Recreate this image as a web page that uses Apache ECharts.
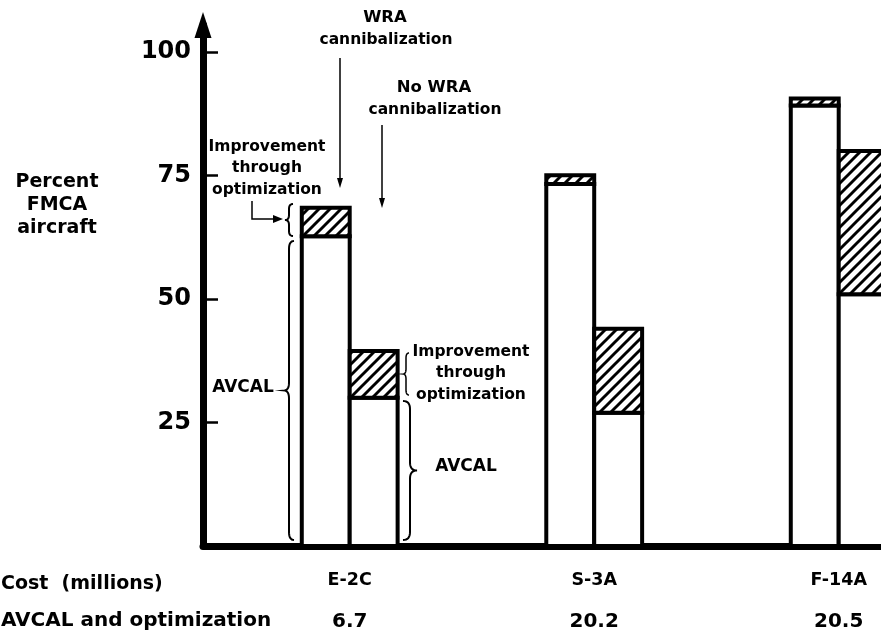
<!DOCTYPE html>
<html>
<head>
<meta charset="utf-8">
<script src="https://cdn.jsdelivr.net/npm/echarts@6/dist/echarts.min.js"></script>
<style>html,body{margin:0;padding:0;background:#fff;}#c{width:881px;height:637px;}</style>
</head>
<body>
<div id="c"></div>
<script>
// ---- data ----
const categories = ['E-2C', 'S-3A', 'F-14A'];
const costLabels = ['6.7', '20.2', '20.5'];
const wraAvcal = [62.7, 73.3, 89.2];
const wraOptimized = [68.5, 75.1, 90.6];
const noWraAvcal = [30, 27, 51];
const noWraOptimized = [39.5, 44, 80];
const yTickValues = [25, 50, 75, 100];

const FONT = '"DejaVu Sans", "Liberation Sans", sans-serif';

function makeHatch() {
  const s = 11;
  const c = document.createElement('canvas');
  c.width = s; c.height = s;
  const g = c.getContext('2d');
  g.fillStyle = '#fff'; g.fillRect(0, 0, s, s);
  g.strokeStyle = '#000'; g.lineWidth = 2.9; g.lineCap = 'square';
  g.beginPath();
  g.moveTo(-2, s + 2); g.lineTo(s + 2, -2);
  g.moveTo(-3, 3); g.lineTo(3, -3);
  g.moveTo(s - 3, s + 3); g.lineTo(s + 3, s - 3);
  g.stroke();
  return c;
}
const hatch = { image: makeHatch(), repeat: 'repeat' };

function barRenderer(side) {
  return function (params, api) {
    const i = api.value(0);
    const base = api.coord([i, 0]);
    const pA = api.coord([i, api.value(1)]);
    const pO = api.coord([i, api.value(2)]);
    const w = api.size([1, 0])[0] * 0.196;
    const x = side < 0 ? base[0] - w : base[0];
    return {
      type: 'group',
      children: [
        { type: 'rect', shape: { x: x, y: pA[1], width: w, height: base[1] - pA[1] },
          style: { fill: '#fff', stroke: '#000', lineWidth: 4 } },
        { type: 'rect', shape: { x: x, y: pO[1], width: w, height: pA[1] - pO[1] },
          style: { fill: hatch, stroke: '#000', lineWidth: 4 } }
      ]
    };
  };
}

function quad(p0, p1, p2, pts) {
  for (let k = 1; k <= 8; k++) {
    const t = k / 8, u = 1 - t;
    pts.push([u * u * p0[0] + 2 * u * t * p1[0] + t * t * p2[0],
              u * u * p0[1] + 2 * u * t * p1[1] + t * t * p2[1]]);
  }
}
function brace(x, y1, y2, dir, w, r, lw) {
  const ym = (y1 + y2) / 2;
  const e = x - dir * w, c = x + dir * w;
  const pts = [[e, y1]];
  quad([e, y1], [x, y1], [x, y1 + r], pts);
  pts.push([x, ym - r]);
  quad([x, ym - r], [x, ym], [c, ym], pts);
  quad([c, ym], [x, ym], [x, ym + r], pts);
  pts.push([x, y2 - r]);
  quad([x, y2 - r], [x, y2], [e, y2], pts);
  return { type: 'polyline', shape: { points: pts }, style: { fill: null, stroke: '#000', lineWidth: lw || 2 } };
}
function txt(text, x, y, size, align) {
  return { type: 'text', x: x, y: y,
    style: { text: text, font: `bold ${size}px ${FONT}`, fill: '#000',
      textAlign: align || 'center', textVerticalAlign: 'middle', lineHeight: 23 } };
}

const chart = echarts.init(document.getElementById('c'), null, { renderer: 'canvas' });
chart.setOption({
  backgroundColor: '#fff',
  animation: false,
  grid: { left: 203, right: 0, top: 25, bottom: 91, containLabel: false },
  xAxis: {
    type: 'value', min: -0.6, max: 2.173,
    splitLine: { show: false },
    axisTick: { show: false },
    axisLine: { show: true, onZero: false, lineStyle: { color: '#000', width: 7 } },
    axisLabel: {
      customValues: [0, 1, 2],
      margin: 13,
      formatter: function (v) {
        const k = Math.round(v);
        return '{a|' + categories[k] + '}\n{b|' + costLabels[k] + '}';
      },
      rich: {
        a: { fontFamily: FONT, fontWeight: 'bold', fontSize: 17.5, color: '#000', lineHeight: 42 },
        b: { fontFamily: FONT, fontWeight: 'bold', fontSize: 20, color: '#000', lineHeight: 42 }
      }
    }
  },
  yAxis: {
    type: 'value', min: 0, max: 105.5,
    splitLine: { show: false },
    axisLine: { show: true, onZero: false, lineStyle: { color: '#000', width: 7 },
      symbol: ['none', 'triangle'], symbolSize: [17, 26] },
    axisTick: { show: true, inside: true, length: 15, customValues: yTickValues,
      lineStyle: { color: '#000', width: 2.5 } },
    axisLabel: { customValues: yTickValues, margin: 12, color: '#000',
      fontFamily: FONT, fontWeight: 'bold', fontSize: 24 }
  },
  series: [
    { name: 'WRA cannibalization', type: 'custom', renderItem: barRenderer(-1),
      encode: { x: 0, y: [1, 2] },
      data: categories.map((c, i) => [i, wraAvcal[i], wraOptimized[i]]) },
    { name: 'No WRA cannibalization', type: 'custom', renderItem: barRenderer(1),
      encode: { x: 0, y: [1, 2] },
      data: categories.map((c, i) => [i, noWraAvcal[i], noWraOptimized[i]]) }
  ],
  graphic: [
    txt('Percent\nFMCA\naircraft', 57, 205, 19),
    txt('Cost  (millions)', 1, 584, 19, 'left'),
    txt('AVCAL and optimization', 1, 621, 20, 'left'),
    txt('WRA', 385, 18, 16.5),
    txt('cannibalization', 386, 40, 15.5),
    txt('No WRA', 434, 88, 16.5),
    txt('cannibalization', 435, 110, 15.5),
    txt('Improvement', 267, 147, 15.5),
    txt('through', 267, 168, 15.5),
    txt('optimization', 267, 190, 15.5),
    txt('AVCAL', 243, 388, 17),
    txt('Improvement', 471, 352, 15.5),
    txt('through', 471, 373, 15.5),
    txt('optimization', 471, 395, 15.5),
    txt('AVCAL', 466, 467, 17),
    { type: 'line', shape: { x1: 340, y1: 58, x2: 340, y2: 180 }, style: { stroke: '#000', lineWidth: 1.5 } },
    { type: 'polygon', shape: { points: [[337, 178], [343, 178], [340, 188]] }, style: { fill: '#000' } },
    { type: 'line', shape: { x1: 382, y1: 125, x2: 382, y2: 200 }, style: { stroke: '#000', lineWidth: 1.5 } },
    { type: 'polygon', shape: { points: [[379, 198], [385, 198], [382, 208]] }, style: { fill: '#000' } },
    { type: 'polyline', shape: { points: [[252, 201], [252, 219], [274, 219]] }, style: { stroke: '#000', lineWidth: 1.5, fill: null } },
    { type: 'polygon', shape: { points: [[273, 215], [283, 219], [273, 223]] }, style: { fill: '#000' } },
    brace(289, 204, 236, -1, 4, 5),
    brace(289, 241, 540, -1, 5, 8),
    brace(406, 353, 395, -1, 3, 5, 1.5),
    brace(410, 401, 540, 1, 7, 8)
  ]
});
</script>
</body>
</html>
